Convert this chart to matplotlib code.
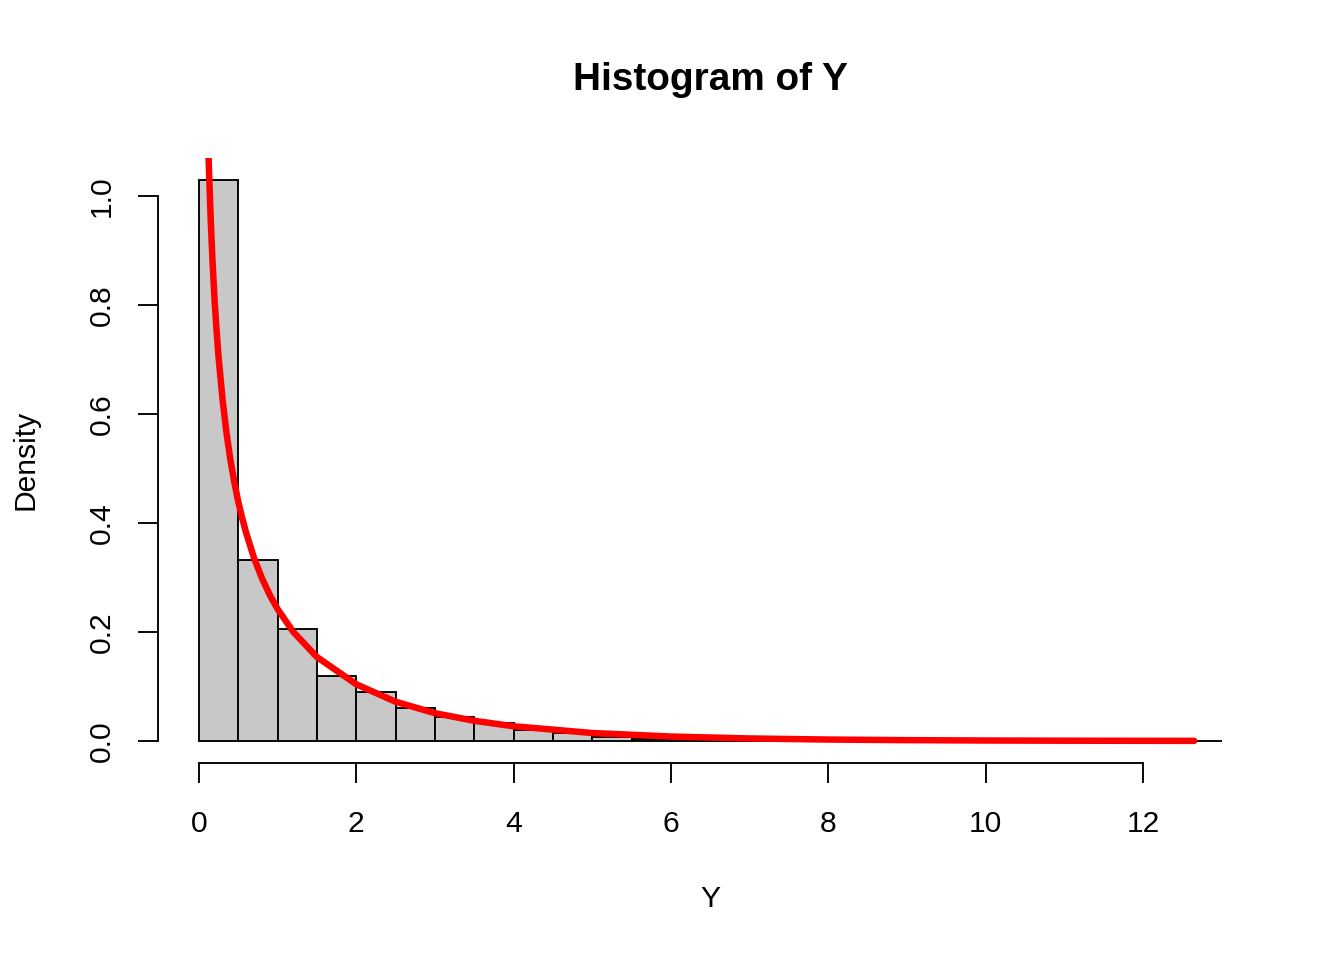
import numpy as np
import matplotlib
matplotlib.use("Agg")
import matplotlib.pyplot as plt

# histogram of Y: bin edges (width 0.5) and densities
bin_edges = np.arange(0, 13.5, 0.5)
densities = [1.029, 0.332, 0.2055, 0.119, 0.0905, 0.060, 0.0446, 0.033,
             0.020, 0.0147, 0.008, 0.0037, 0.004, 0.002, 0.002, 0.0012,
             0.001, 0.0006, 0.0004, 0.0004, 0.0002, 0.0, 0.0002, 0.0,
             0.0, 0.0002]

# red density curve
curve_x = [0.11, 0.125, 0.15, 0.175, 0.2, 0.225, 0.25, 0.3, 0.35, 0.4, 0.45,
           0.5, 0.55, 0.6, 0.7, 0.8, 0.9, 1.0, 1.2, 1.5, 2.0, 2.5, 3.0, 3.5,
           4.0, 5.0, 6.0, 7.0, 8.0, 9.0, 10.0, 11.0, 12.0, 12.65]
curve_y = [1.138, 1.060, 0.956, 0.874, 0.807, 0.752, 0.704, 0.627, 0.566,
           0.516, 0.475, 0.439, 0.409, 0.382, 0.336, 0.299, 0.268, 0.242,
           0.200, 0.154, 0.104, 0.072, 0.051, 0.037, 0.027, 0.0146, 0.0081,
           0.0046, 0.0026, 0.0015, 0.00085, 0.0005, 0.0003, 0.0002]

x_ticks = [0, 2, 4, 6, 8, 10, 12]
y_ticks = [0.0, 0.2, 0.4, 0.6, 0.8, 1.0]

plt.rcParams['font.family'] = ['Liberation Sans', 'DejaVu Sans']

W, H, DPI = 1344, 960, 180
fig = plt.figure(figsize=(W / DPI, H / DPI), dpi=DPI)
ax = fig.add_axes([158 / W, 1 - 763.4 / H, (1262.6 - 158) / W, (763.4 - 157.7) / H])

ax.bar(bin_edges[:-1], densities, width=0.5, align='edge',
       color='#c8c8c8', edgecolor='black', linewidth=0.75)
ax.plot(curve_x, curve_y, color='#ff0000', linewidth=2.6,
        solid_capstyle='round', solid_joinstyle='round')

top = max(densities)
ax.set_xlim(-0.04 * 13, 13 * 1.04)
ax.set_ylim(-0.04 * top, top * 1.04)

for side in ['top', 'right']:
    ax.spines[side].set_visible(False)
ax.spines['bottom'].set_bounds(0, 12)
ax.spines['left'].set_bounds(0, 1.0)
for side in ['bottom', 'left']:
    ax.spines[side].set_linewidth(0.75)

ax.set_xticks(x_ticks)
ax.set_xticklabels([str(t) for t in x_ticks])
ax.set_yticks(y_ticks)
ax.set_yticklabels([f"{t:.1f}" for t in y_ticks], rotation=90, va='center')
ax.tick_params(axis='both', length=8, width=0.75, labelsize=12)
ax.tick_params(axis='x', pad=10.5)
ax.tick_params(axis='y', pad=9)

fig.text(710 / W, 1 - 80 / H, 'Histogram of Y', ha='center', va='center',
         fontsize=15.5, fontweight='bold')
fig.text(710 / W, 1 - 899 / H, 'Y', ha='center', va='center', fontsize=12)
fig.text(25 / W, 1 - 460 / H, 'Density', ha='center', va='center',
         fontsize=12, rotation=90)

fig.savefig('out.png', dpi=DPI)
